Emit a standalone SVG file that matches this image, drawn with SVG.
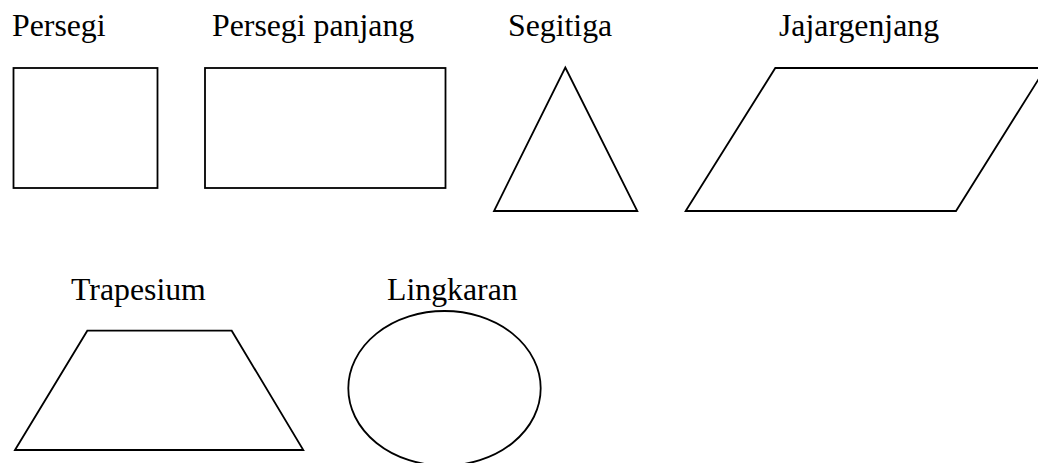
<svg xmlns="http://www.w3.org/2000/svg" width="1038" height="463" viewBox="0 0 1038 463">
<style>
.lbl{font-family:"Liberation Serif","Times New Roman",serif;font-size:31.8px;fill:#000}
.shape{fill:#fff;stroke:#000;stroke-width:1.8;stroke-linejoin:miter}
</style>
<rect width="1038" height="463" fill="#fff"/>
<g id="persegi">
<text class="lbl" x="12" y="35.5">Persegi</text>
<rect class="shape" x="13.5" y="68" width="144" height="120"/>
</g>
<g id="persegi-panjang">
<text class="lbl" x="212" y="35.5">Persegi panjang</text>
<rect class="shape" x="205" y="68" width="240.5" height="120"/>
</g>
<g id="segitiga">
<text class="lbl" x="508" y="36">Segitiga</text>
<polygon class="shape" points="565.3,67.5 637.3,211 494,211"/>
</g>
<g id="jajargenjang">
<text class="lbl" x="779" y="36">Jajargenjang</text>
<polygon class="shape" points="685.7,211 775.3,68 1045.6,68 956,211"/>
</g>
<g id="trapesium">
<text class="lbl" x="71" y="299.5">Trapesium</text>
<polygon class="shape" points="15,450 87.3,330.7 231.7,330.7 303.3,450"/>
</g>
<g id="lingkaran">
<text class="lbl" x="387" y="300">Lingkaran</text>
<ellipse class="shape" cx="444.5" cy="388.3" rx="96.2" ry="77.3"/>
</g>
<g id="connectors"></g>
</svg>
